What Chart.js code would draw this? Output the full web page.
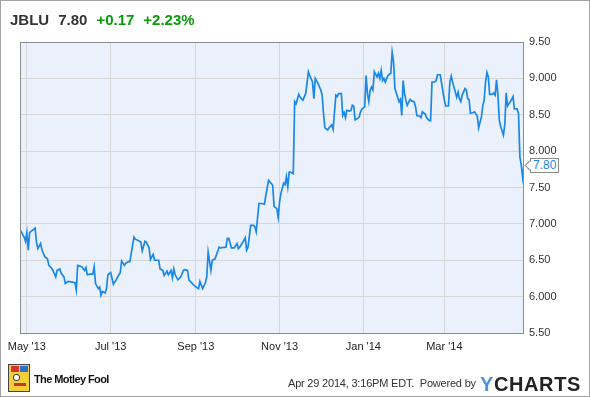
<!DOCTYPE html>
<html>
<head>
<meta charset="utf-8">
<script src="https://cdn.jsdelivr.net/npm/chart.js@4"></script>
<style>
  body { margin: 0; font-family: "Liberation Sans", Arial, sans-serif; }
  #wrap { position: relative; width: 590px; height: 397px; box-sizing: border-box; border: 1px solid #a3a3a3; background: #fff; }
  #myChart { position: absolute; left: -1px; top: -1px; }
  #head { position: absolute; left: 9px; top: 10px; font-weight: bold; font-size: 15px; white-space: nowrap; }
  #head span { margin-right: 9px; }
  .dark { color: #333; }
  .up { color: #0a9a0a; }
  #last { position: absolute; left: 529px; top: 157px; height: 13px; line-height: 13px; padding: 0 2px; border: 1px solid #8a8a8a; background: #fff; color: #1a88e6; font-size: 12px; }
  #last:before { content: ""; position: absolute; left: -5px; top: 3px; width: 6px; height: 6px; background: #fff; border-left: 1px solid #8a8a8a; border-bottom: 1px solid #8a8a8a; transform: rotate(45deg); }
  #fool { position: absolute; left: 7px; top: 363px; height: 30px; }
  #jester { position: absolute; left: 0; top: 0; width: 22px; height: 28px; background: #f5cf3a; border: 1px solid #444; box-sizing: border-box; overflow: hidden; }
  #jester i { position: absolute; display: block; }
  #foolText { position: absolute; left: 26px; top: 9px; font-weight: bold; font-size: 11px; letter-spacing: -0.6px; color: #111; white-space: nowrap; }
  #stamp { position: absolute; left: 287px; top: 376px; font-size: 11px; letter-spacing: -0.2px; color: #333; white-space: nowrap; }
  #ych { position: absolute; left: 479px; top: 372px; font-size: 20px; font-weight: bold; letter-spacing: 0.6px; color: #222; }
  #ych b { color: #4b93dc; }
</style>
</head>
<body>
<div id="wrap">
  <canvas id="myChart" width="590" height="397"></canvas>
  <div id="head"><span class="dark">JBLU</span><span class="dark">7.80</span><span class="up">+0.17</span><span class="up">+2.23%</span></div>
  <div id="last">7.80</div>
  <div id="fool">
    <div id="jester">
      <i style="left:2px;top:1px;width:8px;height:6px;background:#d8342c"></i>
      <i style="left:11px;top:1px;width:8px;height:6px;background:#2f6fc4"></i>
      <i style="left:4px;top:9px;width:5px;height:5px;border-radius:3px;background:#fff;border:1px solid #333"></i>
      <i style="left:5px;top:18px;width:12px;height:3px;background:#c0392b"></i>
    </div>
    <div id="foolText">The Motley Fool</div>
  </div>
  <div id="stamp">Apr 29 2014, 3:16PM EDT.&nbsp; Powered by</div>
  <div id="ych"><b>Y</b>CHARTS</div>
</div>
<script>
// days counted from 1 May 2013
var dayOffsets = [-5,-2,-1,0,1,2,4,6,7,8,10,11,13,15,16,18,19,21,22,24,25,27,28,30,33,35,36,37,40,42,43,44,46,48,49,50,52,53,54,55,57,58,59,61,63,65,67,68,69,71,72,74,75,78,79,81,83,84,86,87,89,90,92,93,96,97,99,100,102,103,105,106,107,108,110,112,114,115,117,118,120,122,124,125,126,128,130,131,132,134,135,137,140,141,145,146,147,149,151,153,154,155,157,159,160,161,163,165,166,167,169,171,173,174,176,177,179,180,182,183,184,185,187,188,189,190,191,192,194,195,196,198,199,201,203,204,205,206,208,209,210,212,214,215,216,217,219,220,222,223,225,226,227,229,230,231,232,233,235,236,237,238,239,241,242,243,244,246,247,248,249,250,251,252,253,255,256,257,258,259,260,261,262,263,265,266,267,268,270,271,272,273,274,275,276,277,279,280,282,283,284,286,287,288,290,291,293,294,295,297,298,299,301,302,303,304,305,307,308,309,310,311,313,314,315,316,317,319,320,321,322,323,325,326,328,329,331,332,333,334,335,336,337,339,340,341,342,343,344,345,346,347,348,349,350,351,353,354,355,357,358,359,360,361,362];
var prices = [6.92,6.82,6.76,6.88,6.64,6.88,6.91,6.94,6.75,6.66,6.73,6.64,6.55,6.52,6.43,6.39,6.36,6.27,6.36,6.38,6.32,6.27,6.18,6.21,6.20,6.19,6.09,6.43,6.41,6.36,6.40,6.30,6.31,6.31,6.41,6.18,6.11,6.13,6.02,6.07,6.05,6.11,6.30,6.33,6.17,6.23,6.30,6.33,6.49,6.43,6.46,6.48,6.48,6.82,6.79,6.77,6.75,6.63,6.76,6.75,6.67,6.51,6.58,6.50,6.50,6.38,6.36,6.29,6.35,6.30,6.36,6.26,6.38,6.30,6.23,6.27,6.36,6.37,6.36,6.23,6.19,6.15,6.12,6.11,6.21,6.11,6.19,6.27,6.61,6.36,6.50,6.52,6.68,6.67,6.68,6.80,6.80,6.67,6.67,6.73,6.66,6.68,6.74,6.81,6.64,6.68,6.98,6.98,6.96,6.89,7.28,7.28,7.27,7.39,7.60,7.58,7.53,7.24,7.21,7.09,7.30,7.42,7.56,7.54,7.65,7.51,7.71,7.71,7.69,8.68,8.65,8.78,8.74,8.70,8.79,8.93,9.09,9.04,8.95,8.72,9.00,8.93,8.84,8.77,8.52,8.32,8.29,8.32,8.36,8.30,8.77,8.75,8.79,8.79,8.49,8.53,8.46,8.56,8.55,8.56,8.63,8.62,8.43,8.45,8.47,8.54,8.58,8.61,9.04,8.79,8.68,8.84,8.88,8.84,9.09,9.02,9.07,9.00,9.11,8.97,9.00,8.95,9.00,9.04,9.07,9.36,9.23,8.86,8.74,8.68,8.71,8.49,8.97,8.79,8.70,8.63,8.71,8.69,8.68,8.61,8.49,8.48,8.46,8.54,8.51,8.46,8.42,8.42,8.95,8.95,8.97,9.05,9.05,8.93,8.81,8.70,8.62,8.62,8.95,9.03,8.95,8.88,8.74,8.81,8.72,8.68,8.77,8.86,8.84,8.72,8.71,8.52,8.53,8.54,8.48,8.32,8.47,8.63,8.70,8.95,9.08,9.02,8.78,8.78,8.80,8.77,8.98,8.77,8.43,8.34,8.28,8.22,8.36,8.80,8.62,8.65,8.71,8.75,8.58,8.58,8.52,7.92,7.81,7.64,7.80];

var monthTicks = [0, 61, 123, 184, 245, 304];
var monthLabels = ["May '13", "Jul '13", "Sep '13", "Nov '13", "Jan '14", "Mar '14"];
var priceTicks = [5.5, 6, 6.5, 7, 7.5, 8, 8.5, 9, 9.5];
var priceLabels = ['5.50', '6.000', '6.50', '7.000', '7.50', '8.000', '8.50', '9.000', '9.50'];

var points = dayOffsets.map(function (d, i) { return { x: d, y: prices[i] }; });

// plot background + frame
var plotFrame = {
  id: 'plotFrame',
  beforeDraw: function (chart) {
    var a = chart.chartArea, c = chart.ctx;
    c.save();
    c.fillStyle = '#eaf1fc';
    c.fillRect(a.left, a.top, a.right - a.left, a.bottom - a.top);
    c.restore();
  },
  afterDraw: function (chart) {
    var a = chart.chartArea, c = chart.ctx;
    c.save();
    c.strokeStyle = '#8d8d8d';
    c.lineWidth = 1;
    c.strokeRect(a.left + 0.5, a.top + 0.5, a.right - a.left - 1, a.bottom - a.top);
    c.restore();
  }
};

var ctx = document.getElementById('myChart');
new Chart(ctx, {
  type: 'line',
  data: {
    datasets: [{
      data: points,
      borderColor: '#1a88e6',
      borderWidth: 1.7,
      pointRadius: 0,
      tension: 0
    }]
  },
  plugins: [plotFrame],
  options: {
    responsive: false,
    animation: false,
    layout: { padding: { left: 20, top: 42, right: 0, bottom: 40 } },
    plugins: { legend: { display: false }, tooltip: { enabled: false } },
    scales: {
      x: {
        type: 'linear',
        min: -5,
        max: 362,
        afterBuildTicks: function (scale) {
          scale.ticks = monthTicks.map(function (v) { return { value: v }; });
        },
        afterFit: function (scale) { scale.height = 24; },
        ticks: {
          padding: 7,
          color: '#222',
          font: { family: 'Liberation Sans', size: 11 },
          maxRotation: 0,
          autoSkip: false,
          callback: function (v, i) { return monthLabels[i]; }
        },
        grid: { color: '#d6d6d6', drawTicks: false },
        border: { display: false }
      },
      y: {
        position: 'right',
        min: 5.5,
        max: 9.5,
        afterBuildTicks: function (scale) {
          scale.ticks = priceTicks.map(function (v) { return { value: v }; });
        },
        afterFit: function (scale) { scale.width = 66; },
        ticks: {
          padding: 5,
          color: '#333',
          font: { family: 'Liberation Sans', size: 11 },
          callback: function (v, i) { return priceLabels[i]; }
        },
        grid: { color: '#d6d6d6', drawTicks: false },
        border: { display: false }
      }
    }
  }
});
</script>
</body>
</html>
